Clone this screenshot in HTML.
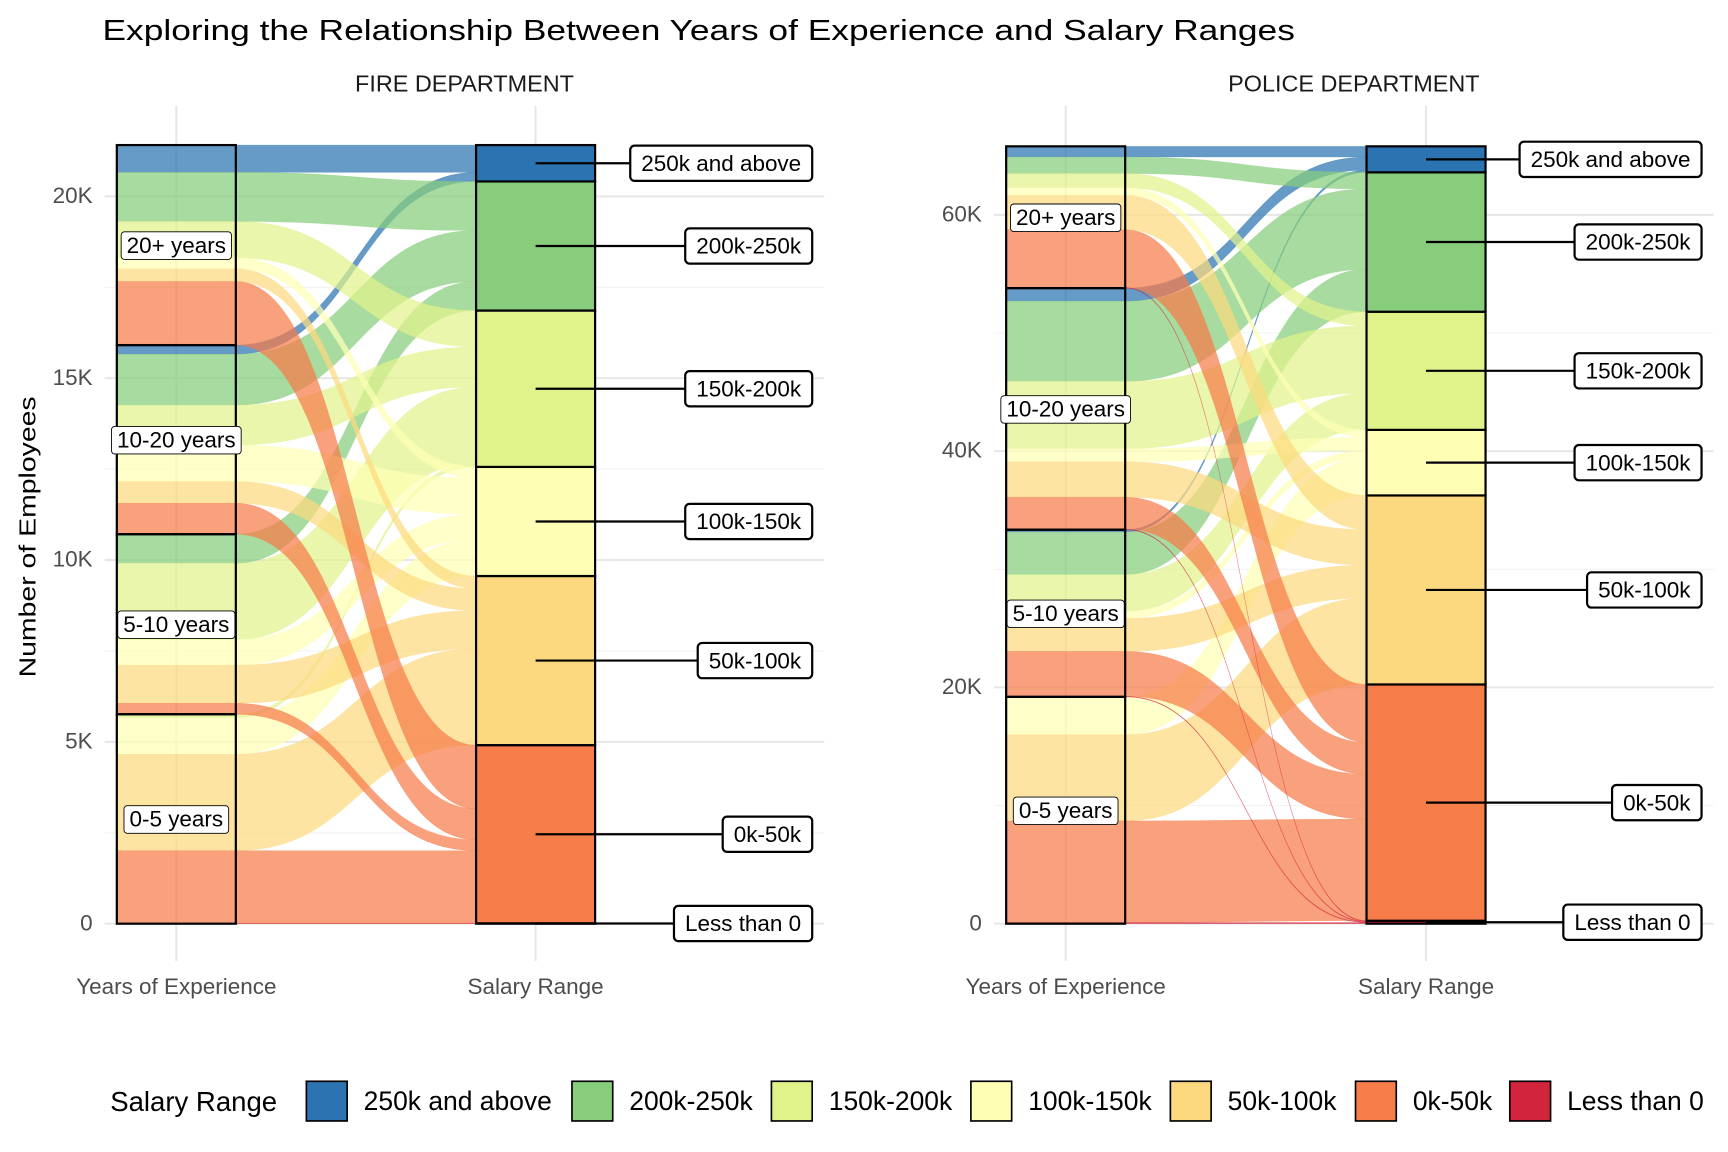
<!DOCTYPE html>
<html><head><meta charset="utf-8"><style>
html,body{margin:0;padding:0;background:#fff;}
svg{display:block;font-family:"Liberation Sans",Arial,sans-serif;}
</style></head><body>
<svg id="chart" width="1728" height="1152" viewBox="0 0 1568 1045" xmlns="http://www.w3.org/2000/svg">
<text x="93" y="36" font-size="26" fill="#000" textLength="1082" lengthAdjust="spacingAndGlyphs">Exploring the Relationship Between Years of Experience and Salary Ranges</text>
<text transform="translate(32,487) rotate(-90)" text-anchor="middle" font-size="21" fill="#000" textLength="255" lengthAdjust="spacingAndGlyphs">Number of Employees</text>
<g id="legend"></g>
</svg>
<script>
const salaryCats = ["Less than 0","0k-50k","50k-100k","100k-150k","150k-200k","200k-250k","250k and above"];
const yearCats = ["0-5 years","5-10 years","10-20 years","20+ years"];
const salaryColors = ["#d2243c","#f67c4a","#fcd97e","#feffb4","#e0f38a","#87cd7b","#2b74b1"];
// counts in thousands, rows = yearCats, columns = salaryCats
const fireCounts = [
  [0.01, 2.0, 2.65, 1.0, 0.1, 0, 0],
  [0.0, 0.3, 1.05, 0.7, 2.1, 0.8, 0],
  [0.0, 0.85, 0.6, 1.0, 1.1, 1.4, 0.25],
  [0.0, 1.75, 0.35, 0.3, 1.0, 1.35, 0.75]
];
const policeCounts = [
  [0.1, 8.6, 7.3, 3.2, 0, 0, 0],
  [0.05, 3.8, 2.8, 0.6, 3.1, 3.6, 0.2],
  [0.05, 2.7, 3.0, 1.1, 5.7, 6.8, 1.1],
  [0.05, 4.9, 2.9, 0.65, 1.2, 1.4, 0.9]
];
const fireTicks = [0,5,10,15,20];
const fireTickLabels = ["0","5K","10K","15K","20K"];
const policeTicks = [0,20,40,60];
const policeTickLabels = ["0","20K","40K","60K"];

const NS = "http://www.w3.org/2000/svg";
const svg = document.getElementById("chart");
const FS = 1.2;
function mk(tag, attrs, parent){const e=document.createElementNS(NS,tag);for(const k in attrs)e.setAttribute(k,attrs[k]);(parent||svg).appendChild(e);return e;}

function panel(cfg){
  const {counts, ticks, tickLabels, perK, x0, x1, lx, rx, title, name} = cfg;
  const base = 838;
  const y = v => base - v*perK;
  const g = mk("g",{});
  
  
  const sw = 108, half = sw/2;
  const step = ticks[1]-ticks[0];
  const maxT = (base-100)/perK;
  for(let v=step/2; v<=maxT; v+=step){
    const l = mk("line",{x1:x0,x2:x1,y1:y(v),y2:y(v),stroke:"#f3f3f3","stroke-width":1},g);
    
    
  }
  ticks.forEach((t,i)=>{
    const l = mk("line",{x1:x0,x2:x1,y1:y(t),y2:y(t),stroke:"#e6e6e6","stroke-width":1.8},g);
    
    
    const tx = mk("text",{x:x0-11,y:y(t)+6,"text-anchor":"end","font-size":17*FS,fill:"#4d4d4d"},g);
    tx.textContent = tickLabels[i];
    
    
  });
  [lx,rx].forEach(cx=>{
    const l = mk("line",{x1:cx,x2:cx,y1:96,y2:872,stroke:"#e6e6e6","stroke-width":1.8},g);
    
    
  });
  const ft = mk("text",{x:(x0+x1)/2,y:83,"text-anchor":"middle","font-size":17*1.25,fill:"#1a1a1a"},g);
  ft.textContent = title;
  
  
  [["Years of Experience",lx],["Salary Range",rx]].forEach(([t,cx])=>{
    const tx = mk("text",{x:cx,y:902,"text-anchor":"middle","font-size":17*FS,fill:"#4d4d4d"},g);
    tx.textContent=t;
    
    
  });
  const leftPos = []; let acc = 0;
  counts.forEach((row,i)=>{ leftPos.push([]); row.forEach((c,j)=>{leftPos[i].push(acc); acc+=c;}); });
  const rTot = salaryCats.map((_,j)=>counts.reduce((s,r)=>s+r[j],0));
  const rStart = []; acc=0; rTot.forEach(t=>{rStart.push(acc); acc+=t;});
  const rightPos = counts.map(()=>[]);
  salaryCats.forEach((_,j)=>{ let a=rStart[j]; counts.forEach((r,i)=>{rightPos[i][j]=a; a+=r[j];}); });
  const xa = lx+half, xb = rx-half, xm=(xa+xb)/2;
  for(let j=salaryCats.length-1;j>=0;j--){
    counts.forEach((r,i)=>{
      const c=r[j]; if(c<=0) return;
      const l0=y(leftPos[i][j]), l1=y(leftPos[i][j]+c), r0=y(rightPos[i][j]), r1=y(rightPos[i][j]+c);
      const d=`M${lx-half},${l1} L${xa},${l1} C${xm},${l1} ${xm},${r1} ${xb},${r1} L${xb},${r0} C${xm},${r0} ${xm},${l0} ${xa},${l0} L${lx-half},${l0} Z`;
      const p = mk("path",{d,fill:salaryColors[j],"fill-opacity":0.72,stroke:salaryColors[j],"stroke-opacity":0.4,"stroke-width":0.5},g);
      
      
    });
  }
  yearCats.forEach((yc,i)=>{
    const s=leftPos[i][0], t=counts[i].reduce((a,b)=>a+b,0);
    const rct = mk("rect",{x:lx-half,y:y(s+t),width:sw,height:t*perK,fill:"none",stroke:"#000","stroke-width":2},g);
    
    
  });
  salaryCats.forEach((sc,j)=>{
    const rct = mk("rect",{x:rx-half,y:y(rStart[j]+rTot[j]),width:sw,height:rTot[j]*perK,fill:salaryColors[j],stroke:"#000","stroke-width":2},g);
    
    
  });
  yearCats.forEach((yc,i)=>{
    const s=leftPos[i][0], t=counts[i].reduce((a,b)=>a+b,0);
    const cy=y(s+t/2);
    const b = mk("rect",{x:lx-50,y:cy-12,width:100,height:25,rx:3,fill:"#fff",stroke:"#000","stroke-width":0.8},g);
    
    
    const tx = mk("text",{x:lx,y:cy+7,"text-anchor":"middle","font-size":17*FS,fill:"#000"},g);
    tx.textContent=yc;
    
    
    const w = tx.getComputedTextLength()+10;
    b.setAttribute("x",lx-w/2); b.setAttribute("width",w);
  });
  salaryCats.forEach((sc,j)=>{
    const cy = y(rStart[j]+rTot[j]/2);
    const ln = mk("line",{x1:rx,x2:x1,y1:cy,y2:cy,stroke:"#000","stroke-width":2},g);
    
    
    const b = mk("rect",{x:0,y:cy-16,width:10,height:32,rx:4,fill:"#fff",stroke:"#000","stroke-width":2},g);
    
    
    const tx = mk("text",{x:0,y:cy+7,"text-anchor":"middle","font-size":17*FS,fill:"#000"},g);
    tx.textContent=sc;
    
    
    const w = tx.getComputedTextLength()+20;
    const bx = x1-11-w;
    b.setAttribute("x",bx); b.setAttribute("width",w);
    tx.setAttribute("x",bx+w/2);
    ln.setAttribute("x2",bx);
  });
}
panel({counts:fireCounts,ticks:fireTicks,tickLabels:fireTickLabels,perK:33.0,x0:95,x1:748,lx:160,rx:486,title:"FIRE DEPARTMENT",name:"fire"});
panel({counts:policeCounts,ticks:policeTicks,tickLabels:policeTickLabels,perK:10.72,x0:902,x1:1555,lx:967,rx:1294,title:"POLICE DEPARTMENT",name:"police"});

const lg = document.getElementById("legend");
const lt = mk("text",{x:100,y:1008,"font-size":25,fill:"#000"},lg);
lt.textContent="Salary Range";


const legendOrder = [6,5,4,3,2,1,0];
const keyX = [278,519,700,881,1062,1230,1370];
legendOrder.forEach((j,k)=>{
  const r = mk("rect",{x:keyX[k],y:981,width:37,height:36,fill:salaryColors[j],stroke:"#000","stroke-width":1.5},lg);
  
  
  const t = mk("text",{x:keyX[k]+52,y:1007,"font-size":24,fill:"#000"},lg);
  t.textContent=salaryCats[j];
  
  
});
</script>
</body></html>
